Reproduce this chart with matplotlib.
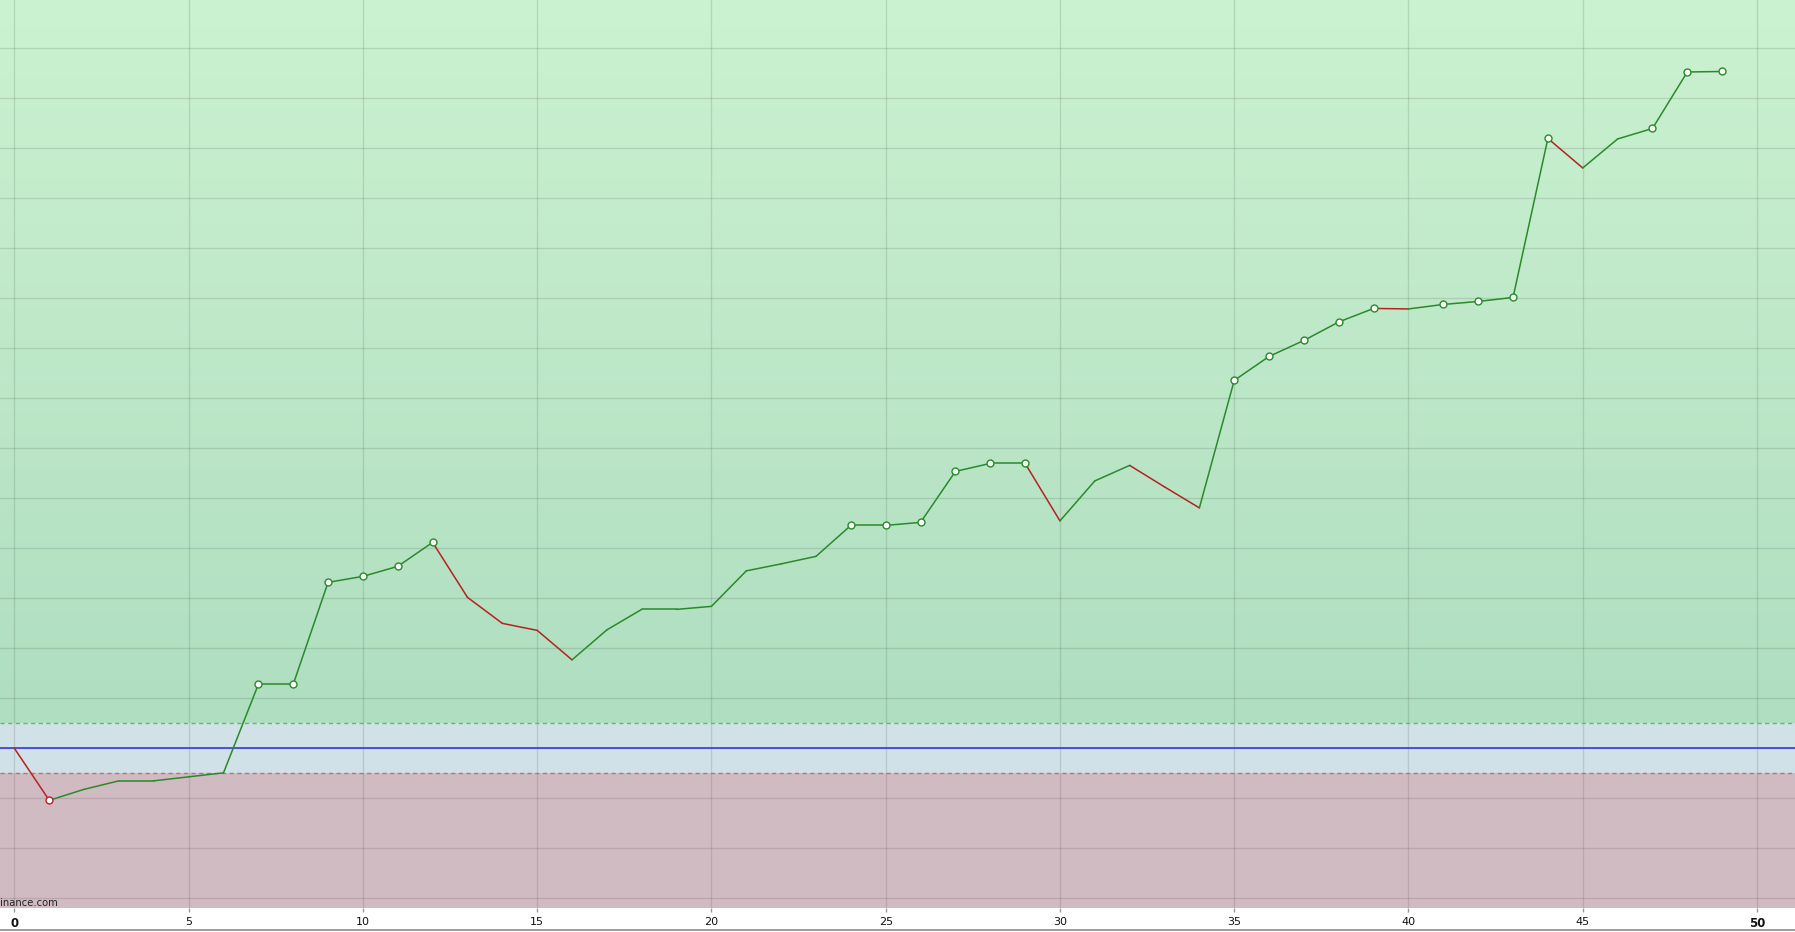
import numpy as np
import matplotlib
matplotlib.use("Agg")
import matplotlib.pyplot as plt
from matplotlib.lines import Line2D
from matplotlib.colors import LinearSegmentedColormap

# ---- data ----
trade_no = list(range(50))
equity = [0.00, -1.04, -0.82, -0.65, -0.65, -0.57, -0.49,
          1.28, 1.28, 3.32, 3.44, 3.64, 4.12,
          3.02, 2.50, 2.36, 1.77,
          2.37, 2.78, 2.78, 2.84,
          3.55, 3.69, 3.84,
          4.46, 4.46, 4.52,
          5.54, 5.70, 5.70,
          4.55, 5.35, 5.66, 5.23, 4.81,
          7.36, 7.84, 8.16, 8.53, 8.80, 8.79,
          8.88, 8.94, 9.02,
          12.20, 11.61, 12.19, 12.40, 13.53, 13.54]
x_ticks = [0, 5, 10, 15, 20, 25, 30, 35, 40, 45, 50]
x_tick_labels = ["0", "5", "10", "15", "20", "25", "30", "35", "40", "45", "50"]
upper_band = 0.5
lower_band = -0.5
baseline = 0.0
watermark = "inance.com"

# ---- figure ----
W, H, DPI = 1795, 932, 100
fig = plt.figure(figsize=(W / DPI, H / DPI), dpi=DPI)
fig.patch.set_facecolor("white")
bottom_px = 932 - 908.3
ax = fig.add_axes([0, bottom_px / H, 1, 1 - bottom_px / H])

xmin, xmax = -0.413, 51.09
ymin, ymax = -3.2, 14.97
ax.set_xlim(xmin, xmax)
ax.set_ylim(ymin, ymax)

# background zones
green_cmap = LinearSegmentedColormap.from_list("g", ["#AFDEC0", "#CBF2D1"])
grad = np.linspace(0, 1, 256).reshape(-1, 1)
ax.imshow(grad, cmap=green_cmap, origin="lower", aspect="auto",
          extent=[xmin, xmax, upper_band, ymax], zorder=0)
ax.axhspan(lower_band, upper_band, color="#D1E1E8", zorder=0, lw=0)
ax.axhspan(ymin, lower_band, color="#D1BBC2", zorder=0, lw=0)

# grid
for gy in range(-3, 15):
    ax.axhline(gy, color="black", alpha=0.11, lw=1.0, zorder=1)
for gx in x_ticks:
    ax.axvline(gx, color="black", alpha=0.11, lw=1.0, zorder=1)

# band lines
ax.axhline(upper_band, color="#5CC05C", lw=1.0, ls=(0, (3, 2.5)), zorder=2)
ax.axhline(lower_band, color="#CC6A6A", lw=1.0, ls=(0, (3, 2.5)), zorder=2)
ax.axhline(baseline, color="#2B2BDD", lw=1.1, zorder=2)

# equity line, colored by direction
GREEN = "#2A8A2A"
RED = "#B52222"
for i in range(len(equity) - 1):
    c = RED if equity[i + 1] < equity[i] else GREEN
    ax.plot(trade_no[i:i + 2], equity[i:i + 2], color=c, lw=1.1,
            solid_capstyle="round", zorder=3)

# markers at new highs / new lows
for i in range(1, len(equity)):
    prev = equity[:i]
    if equity[i] >= max(prev):
        ax.plot(trade_no[i], equity[i], "o", ms=5, mfc="white", mec=GREEN,
                mew=1.0, zorder=4)
    elif equity[i] < min(prev):
        ax.plot(trade_no[i], equity[i], "o", ms=5, mfc="white", mec=RED,
                mew=1.0, zorder=4)

# axes styling
for s in ax.spines.values():
    s.set_visible(False)
ax.set_yticks([])
ax.set_xticks(x_ticks)
ax.set_xticklabels(x_tick_labels)
ax.tick_params(axis="x", length=3, width=1, color="#9A9A9A", pad=3,
               labelsize=8, labelcolor="#111111")
for lbl in ax.get_xticklabels():
    lbl.set_fontfamily("DejaVu Sans")
    if lbl.get_text() in ("0", "50"):
        lbl.set_fontweight("bold")
        lbl.set_fontsize(8.5)

# watermark
fig.text(0.0, (932 - 905.5) / H, watermark, fontsize=7.2, color="#222222",
         ha="left", va="baseline", family="DejaVu Sans")

# bottom border line
fig.add_artist(Line2D([0, 1], [(932 - 930) / H] * 2, transform=fig.transFigure,
                      color="#8A8A8A", lw=1.2))

fig.savefig("out.png", dpi=DPI, facecolor="white")
